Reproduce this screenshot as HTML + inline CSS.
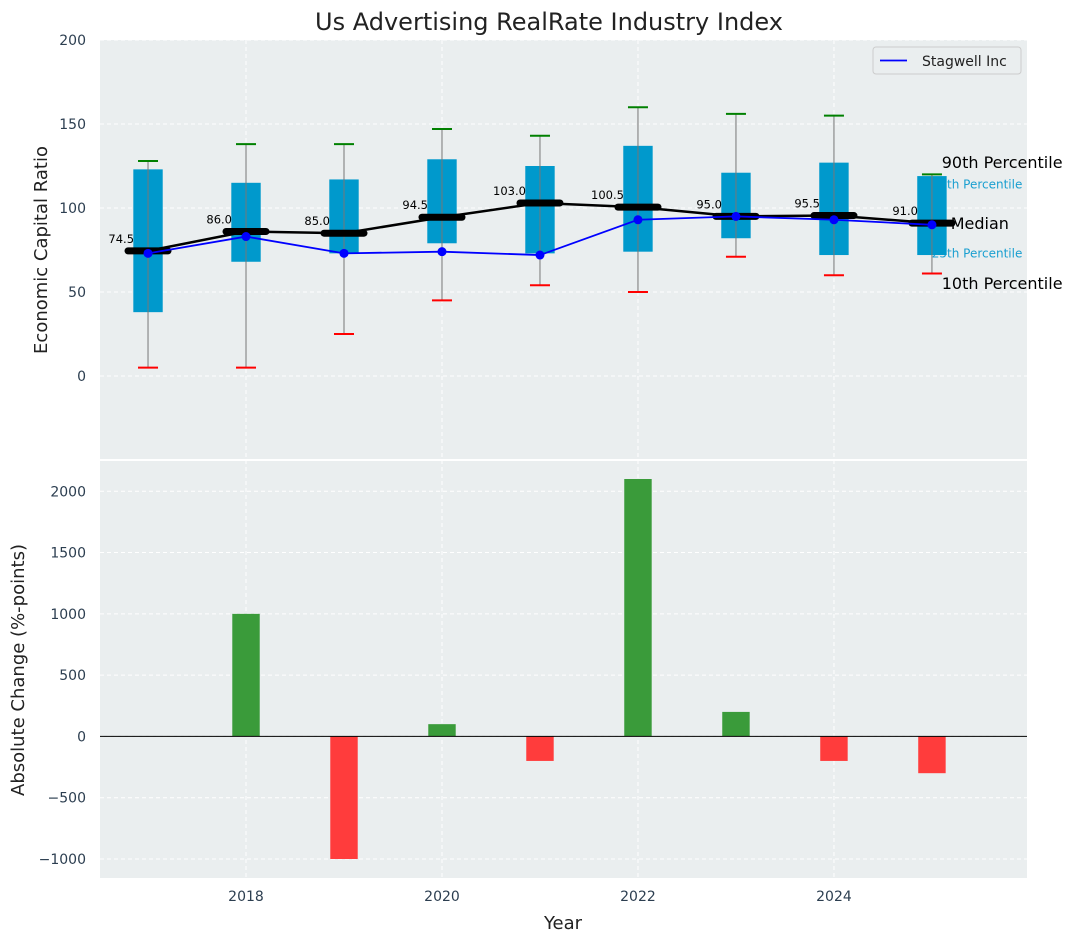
<!DOCTYPE html>
<html><head><meta charset="utf-8"><style>
body{margin:0;background:#fff;font-family:"Liberation Sans","DejaVu Sans",sans-serif}
</style></head><body>
<svg id="c" width="1077" height="942" xmlns="http://www.w3.org/2000/svg" font-family="DejaVu Sans, Liberation Sans, sans-serif"></svg>
<script>
const years=[2017,2018,2019,2020,2021,2022,2023,2024,2025];
const p10=[5,5,25,45,54,50,71,60,61];
const p25=[38,68,73,79,73,74,82,72,72];
const p75=[123,115,117,129,125,137,121,127,119];
const p90=[128,138,138,147,143,160,156,155,120];
const medians=[74.5,86,85,94.5,103,100.5,95,95.5,91];
const stagwell=[73,83,73,74,72,93,95,93,90];
const changes=[0,1000,-1000,100,-200,2100,200,-200,-300];
const yTicksTop=[0,50,100,150,200];
const yTicksBot=[-1000,-500,0,500,1000,1500,2000];
const xTicks=[2018,2020,2022,2024];

const svg=document.getElementById('c');const NS='http://www.w3.org/2000/svg';
function mk(t,a,txt){const e=document.createElementNS(NS,t);for(const k in a)e.setAttribute(k,a[k]);if(txt!=null)e.textContent=txt;svg.appendChild(e);return e;}
const L=100,R=1027,T1=40,B1=460,T2=460,B2=878;
const x=v=>L+(v-2016.51)/(2025.97-2016.51)*(R-L);
const y1=v=>B1-(v+50)/250*(B1-T1);
const y2=v=>B2-(v+1155)/3410*(B2-T2);

let e;
e=mk('rect',{x:L,y:T1,width:R-L,height:B1-T1,fill:'#eaeeef'});

e=mk('rect',{x:L,y:T2+1,width:R-L,height:B2-T2-1,fill:'#eaeeef'});

mk('line',{x1:L,x2:R,y1:T2,y2:T2,stroke:'#fff','stroke-width':2});
xTicks.forEach(t=>{[[T1,B1],[T2,B2]].forEach(([a,b])=>{mk('line',{x1:x(t),x2:x(t),y1:a,y2:b,stroke:'#fff','stroke-dasharray':'4,3'});});
 e=mk('text',{x:x(t),y:901,'text-anchor':'middle','font-size':14,fill:'#2c3e50'},t);
 });
yTicksTop.forEach(t=>{mk('line',{x1:L,x2:R,y1:y1(t),y2:y1(t),stroke:'#fff','stroke-dasharray':'4,3'});
 e=mk('text',{x:86,y:y1(t)+5,'text-anchor':'end','font-size':14,fill:'#2c3e50'},t);
 });
yTicksBot.forEach(t=>{mk('line',{x1:L,x2:R,y1:y2(t),y2:y2(t),stroke:'#fff','stroke-dasharray':'4,3'});
 e=mk('text',{x:86,y:y2(t)+5,'text-anchor':'end','font-size':14,fill:'#2c3e50'},t.toString().replace('-','\u2212'));
 });
const lx=x(2025.1);
[['90th Percentile',p90[8]+7,16,'#000',0],['75th Percentile',p75[8]-5,12,'#1a9fd0',10],['25th Percentile',p25[8]+1,12,'#1a9fd0',10],['10th Percentile',p10[8]-6,16,'#000',0]].forEach(([s,v,fs,c,off])=>{
 e=mk('text',{x:lx-off,y:y1(v)+fs*0.35,'font-size':fs,fill:c},s);
 });
const bw=x(2017.15)-x(2017);
years.forEach((yr,i)=>{
 const cx=x(yr);
 e=mk('rect',{x:cx-bw,y:y1(p75[i]),width:bw*2,height:y1(p25[i])-y1(p75[i]),fill:'#0099cc'});
 
 mk('line',{x1:cx,x2:cx,y1:y1(p90[i]),y2:y1(p10[i]),stroke:'#777','stroke-width':1});
 mk('line',{x1:cx-10,x2:cx+10,y1:y1(p90[i]),y2:y1(p90[i]),stroke:'green','stroke-width':2});
 mk('line',{x1:cx-10,x2:cx+10,y1:y1(p10[i]),y2:y1(p10[i]),stroke:'red','stroke-width':2});
});
e=mk('polyline',{points:years.map((yr,i)=>x(yr)+','+y1(medians[i])).join(' '),fill:'none',stroke:'#000','stroke-width':2.5});

years.forEach((yr,i)=>{
 e=mk('line',{x1:x(yr)-20,x2:x(yr)+20,y1:y1(medians[i]),y2:y1(medians[i]),stroke:'#000','stroke-width':7,'stroke-linecap':'round'});
 
 e=mk('text',{x:x(yr)-14,y:y1(medians[i])-8,'text-anchor':'end','font-size':11.5,fill:'#000'},medians[i].toFixed(1));
 
});
e=mk('polyline',{points:years.map((yr,i)=>x(yr)+','+y1(stagwell[i])).join(' '),fill:'none',stroke:'#0000ff','stroke-width':1.8});

years.forEach((yr,i)=>{e=mk('circle',{cx:x(yr),cy:y1(stagwell[i]),r:4.5,fill:'#0000ff'});
 });
e=mk('text',{x:lx+9,y:y1(medians[8])+6,'font-size':16,fill:'#000'},'Median');

e=mk('rect',{x:873,y:47,width:148,height:27,rx:3,fill:'#eaeeef',stroke:'#ccc'});

mk('line',{x1:880,x2:907,y1:60.5,y2:60.5,stroke:'#0000ff','stroke-width':1.8});
e=mk('text',{x:922,y:66,'font-size':14,fill:'#222'},'Stagwell Inc');

const bbw=x(2017.14)-x(2017);
years.forEach((yr,i)=>{if(!changes[i])return;
 const a=y2(Math.max(0,changes[i])),b=y2(Math.min(0,changes[i]));
 e=mk('rect',{x:x(yr)-bbw,y:a,width:bbw*2,height:b-a,fill:changes[i]>0?'#3a9b3a':'#ff3c3c'});
 });
mk('line',{x1:L,x2:R,y1:y2(0),y2:y2(0),stroke:'#000','stroke-width':1});
e=mk('text',{x:549,y:30,'text-anchor':'middle','font-size':24,fill:'#222'},'Us Advertising RealRate Industry Index');

e=mk('text',{x:563,y:929,'text-anchor':'middle','font-size':18,fill:'#222'},'Year');

e=mk('text',{x:47,y:250,'text-anchor':'middle','font-size':18,fill:'#222',transform:'rotate(-90 47 250)'},'Economic Capital Ratio');

e=mk('text',{x:24,y:670,'text-anchor':'middle','font-size':18,fill:'#222',transform:'rotate(-90 24 670)'},'Absolute Change (%-points)');

</script>
</body></html>
